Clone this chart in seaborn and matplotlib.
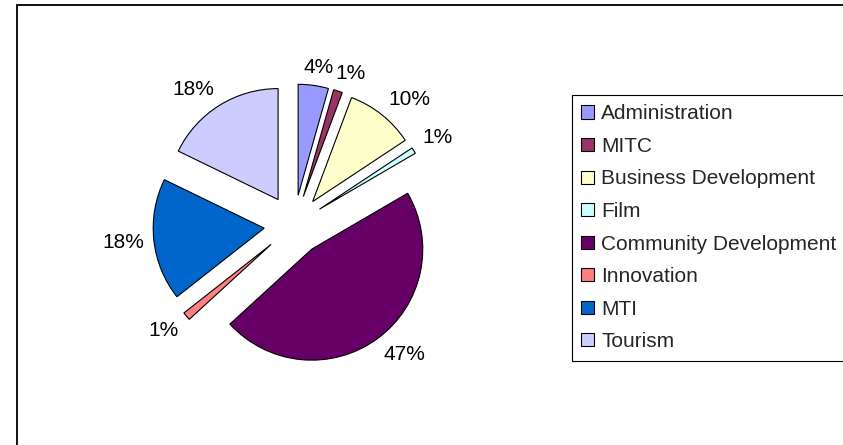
import matplotlib
matplotlib.use("Agg")
import matplotlib.pyplot as plt
from matplotlib.patches import Rectangle
import numpy as np
import seaborn as sns

# budget share by unit (percent)
units = ["Administration", "MITC", "Business Development", "Film",
         "Community Development", "Innovation", "MTI", "Tourism"]
shares = [4.4, 1.3, 10.0, 0.9, 46.6, 1.2, 17.8, 17.8]
colors = ["#9999FF", "#993366", "#FFFFCC", "#CCFFFF",
          "#660066", "#FF8080", "#0066CC", "#CCCCFF"]

sns.set_theme(style="white")
plt.rcParams["font.family"] = ["Liberation Sans", "DejaVu Sans"]

W, H = 843, 445
fig = plt.figure(figsize=(W / 100, H / 100), dpi=100)
fig.patch.set_facecolor("white")

# pie centre around (294, 225) px, radius ~111 px
R_PX = 111
lim = 1.9
side = 2 * lim * R_PX
cx, cy = 294, H - 225
ax = fig.add_axes([(cx - side / 2) / W, (cy - side / 2) / H, side / W, side / H])

explode = 0.27
wedges, texts, autotexts = ax.pie(
    shares, colors=colors, startangle=90, counterclock=False,
    explode=[explode] * len(shares), autopct="%1.0f%%", pctdistance=1.24,
    wedgeprops=dict(edgecolor="black", linewidth=0.8),
    textprops=dict(fontsize=15, color="black"))
ax.set_xlim(-lim, lim)
ax.set_ylim(-lim, lim)
ax.set_aspect("equal")
ax.axis("off")

# put each label just outside its wedge, corner towards the pie (Excel style)
fig.canvas.draw()
rend = fig.canvas.get_renderer()
gap = 10
for w, t in zip(wedges, autotexts):
    th = np.deg2rad((w.theta1 + w.theta2) / 2)
    bb = t.get_window_extent(rend)
    hw, hh = bb.width / 2, bb.height / 2 * 0.8
    c, s = np.cos(th), np.sin(th)
    ox = hw * np.sign(c) * min(1, 2 * abs(c))
    oy = hh * np.sign(s) * min(1, 2 * abs(s))
    d = 1 + explode + gap / R_PX
    t.set_position((d * c + ox / R_PX, d * s + oy / R_PX))

# chart area border (right and bottom run off the picture)
fig.add_artist(Rectangle((16.5 / W, -0.05), 1.2, (H - 4.5) / H + 0.05,
                         transform=fig.transFigure, fill=False,
                         edgecolor="black", linewidth=1.3))

leg = fig.legend(wedges, units, loc="upper left",
                 bbox_to_anchor=(572 / W, 1 - 95 / H), borderaxespad=0,
                 fontsize=15, frameon=True, fancybox=False, framealpha=1,
                 edgecolor="black", borderpad=0.45, labelspacing=0.65,
                 handlelength=0.6, handleheight=0.6, handletextpad=0.35)
leg.get_frame().set_linewidth(0.8)

fig.savefig("out.png", dpi=100, facecolor="white")
